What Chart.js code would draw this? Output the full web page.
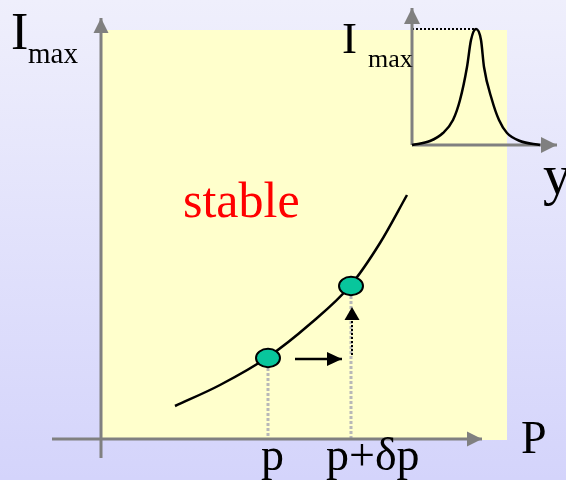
<!DOCTYPE html>
<html>
<head>
<meta charset="utf-8">
<script src="https://cdn.jsdelivr.net/npm/chart.js@4/dist/chart.umd.min.js"></script>
<style>
  html, body { margin: 0; padding: 0; background: #e6e6fb; }
  #wrap { width: 566px; height: 480px; position: relative; }
</style>
</head>
<body>
<div id="wrap"><canvas id="c" width="566" height="480"></canvas></div>
<script>
// ---- Data (diagram units: P along the main horizontal axis, I_max up) ----
// Stability curve I_max(P)
const curveP    = [0.74, 1.19, 1.67, 2.09, 2.49, 2.79, 3.06];
const curveI    = [0.33, 0.54, 0.82, 1.15, 1.53, 1.96, 2.44];
// Operating points p and p+δp
const pointP    = [1.67, 2.50];
const pointI    = [0.81, 1.53];
const pointTick = ['p', 'p+δp'];
// Inset profile I(y) (resonance peak)
const insetY    = [3.11, 3.29, 3.42, 3.52, 3.59, 3.66, 3.70, 3.75, 3.80, 3.83, 3.91, 3.98, 4.06, 4.19, 4.39];
const insetI    = [2.94, 2.98, 3.06, 3.19, 3.39, 3.72, 3.99, 4.10, 3.99, 3.72, 3.39, 3.19, 3.06, 2.98, 2.94];
// Axis extents
const mainXAxis  = [-0.49, 3.81];   // P axis (at I = 0)
const mainYAxis  = [-0.19, 4.21];   // I axis (at P = 0)
const insetOrigin = [3.11, 2.94];
const insetXEnd   = 4.56;
const insetYEnd   = 4.31;
const panel = { x0: 0.01, x1: 4.06, y0: -0.01, y1: 4.09 };
// Step arrows
const stepH = { y: 0.80, x0: 1.94, x1: 2.41 };
const stepV = { x: 2.51, y0: 0.84, y1: 1.32 };

const labels = [
  { t: 'I',      x: -0.90, y: 3.90, size: 52, color: '#000' },
  { t: 'max',    x: -0.73, y: 3.76, size: 29, color: '#000' },
  { t: 'stable', x: 0.82,  y: 2.22, size: 50, color: '#ff0000' },
  { t: 'I',      x: 2.41,  y: 3.86, size: 45, color: '#000' },
  { t: 'max',    x: 2.67,  y: 3.72, size: 26, color: '#000' },
  { t: 'y',      x: 4.42,  y: 2.45, size: 56, color: '#000' },
  { t: 'P',      x: 4.20,  y: -0.14, size: 46, color: '#000' },
  { t: pointTick[0], x: 1.60, y: -0.31, size: 46, color: '#000' },
  { t: pointTick[1], x: 2.25, y: -0.31, size: 46, color: '#000' }
];

const pts = (xs, ys) => xs.map((x, i) => ({ x: x, y: ys[i] }));

// ellipse marker
function ellipseMarker() {
  const c = document.createElement('canvas');
  c.width = 30; c.height = 24;
  const g = c.getContext('2d');
  g.beginPath();
  g.ellipse(15, 12, 12, 9.2, 0, 0, Math.PI * 2);
  g.fillStyle = '#08c69c';
  g.fill();
  g.lineWidth = 2;
  g.strokeStyle = '#000';
  g.stroke();
  return c;
}

const GRAY = '#808080';
const base = { showLine: true, pointRadius: 0, fill: false, clip: false, tension: 0 };

const datasets = [
  Object.assign({}, base, { label: 'points', showLine: false, data: pts(pointP, pointI),
    pointStyle: ellipseMarker(), pointRadius: 12, order: 0 }),
  Object.assign({}, base, { label: 'curve', data: pts(curveP, curveI), borderColor: '#000',
    borderWidth: 2.5, cubicInterpolationMode: 'monotone', order: 1 }),
  Object.assign({}, base, { label: 'inset', data: pts(insetY, insetI), borderColor: '#000',
    borderWidth: 2.5, cubicInterpolationMode: 'monotone', order: 1 }),
  Object.assign({}, base, { label: 'stepH', data: [{x: stepH.x0, y: stepH.y}, {x: stepH.x1, y: stepH.y}],
    borderColor: '#000', borderWidth: 2.5, order: 1, arrow: { len: 15, half: 7, color: '#000' } }),
  Object.assign({}, base, { label: 'stepV', data: [{x: stepV.x, y: stepV.y0}, {x: stepV.x, y: stepV.y1}],
    borderColor: '#000', borderWidth: 2, borderDash: [2, 2], order: 1, arrow: { len: 13, half: 7.5, color: '#000' } }),
  Object.assign({}, base, { label: 'drop1', data: [{x: pointP[0], y: pointI[0]}, {x: pointP[0], y: 0}],
    borderColor: '#b8b8b8', borderWidth: 3, borderDash: [3, 2], order: 3 }),
  Object.assign({}, base, { label: 'drop2', data: [{x: pointP[1], y: pointI[1]}, {x: pointP[1], y: 0}],
    borderColor: '#b8b8b8', borderWidth: 3, borderDash: [3, 2], order: 3 }),
  Object.assign({}, base, { label: 'peak', data: [{x: insetOrigin[0], y: 4.10}, {x: 3.75, y: 4.10}],
    borderColor: '#000', borderWidth: 2, borderDash: [2, 2], order: 3 }),
  Object.assign({}, base, { label: 'xAxis', data: [{x: mainXAxis[0], y: 0}, {x: mainXAxis[1], y: 0}],
    borderColor: GRAY, borderWidth: 3, order: 2, arrow: { len: 15, half: 7.5, color: GRAY } }),
  Object.assign({}, base, { label: 'yAxis', data: [{x: 0, y: mainYAxis[0]}, {x: 0, y: mainYAxis[1]}],
    borderColor: GRAY, borderWidth: 3, order: 2, arrow: { len: 15, half: 7.5, color: GRAY } }),
  Object.assign({}, base, { label: 'insetX', data: [{x: insetOrigin[0], y: insetOrigin[1]}, {x: insetXEnd, y: insetOrigin[1]}],
    borderColor: GRAY, borderWidth: 3, order: 2, arrow: { len: 16, half: 8, color: GRAY } }),
  Object.assign({}, base, { label: 'insetYax', data: [{x: insetOrigin[0], y: insetOrigin[1]}, {x: insetOrigin[0], y: insetYEnd}],
    borderColor: GRAY, borderWidth: 3, order: 2, arrow: { len: 16, half: 8, color: GRAY } })
];

const bgPlugin = {
  id: 'bg',
  beforeDraw(chart) {
    const ctx = chart.ctx, w = chart.width, h = chart.height;
    const g = ctx.createLinearGradient(0, 0, 0, h);
    g.addColorStop(0, '#efeffc');
    g.addColorStop(1, '#d4d4fb');
    ctx.save();
    ctx.fillStyle = g;
    ctx.fillRect(0, 0, w, h);
    const xs = chart.scales.x, ys = chart.scales.y;
    const px0 = xs.getPixelForValue(panel.x0), px1 = xs.getPixelForValue(panel.x1);
    const py0 = ys.getPixelForValue(panel.y1), py1 = ys.getPixelForValue(panel.y0);
    ctx.fillStyle = '#ffffcc';
    ctx.fillRect(px0, py0, px1 - px0, py1 - py0);
    ctx.restore();
  }
};

const arrowPlugin = {
  id: 'arrows',
  afterDatasetsDraw(chart) {
    const ctx = chart.ctx;
    chart.data.datasets.forEach((ds, i) => {
      if (!ds.arrow) return;
      const meta = chart.getDatasetMeta(i);
      const n = meta.data.length;
      const a = meta.data[n - 2], b = meta.data[n - 1];
      const ang = Math.atan2(b.y - a.y, b.x - a.x);
      const L = ds.arrow.len, H = ds.arrow.half;
      ctx.save();
      ctx.translate(b.x, b.y);
      ctx.rotate(ang);
      ctx.beginPath();
      ctx.moveTo(0, 0);
      ctx.lineTo(-L, -H);
      ctx.lineTo(-L, H);
      ctx.closePath();
      ctx.fillStyle = ds.arrow.color;
      ctx.fill();
      ctx.restore();
    });
    // labels
    const xs = chart.scales.x, ys = chart.scales.y;
    ctx.save();
    ctx.textAlign = 'left';
    ctx.textBaseline = 'alphabetic';
    labels.forEach(l => {
      ctx.font = l.size + 'px "Liberation Serif", "Times New Roman", serif';
      ctx.fillStyle = l.color;
      ctx.fillText(l.t, xs.getPixelForValue(l.x), ys.getPixelForValue(l.y));
    });
    ctx.restore();
  }
};

new Chart(document.getElementById('c'), {
  type: 'scatter',
  data: { datasets: datasets },
  options: {
    responsive: false,
    animation: false,
    events: [],
    layout: { padding: 0, autoPadding: false },
    plugins: { legend: { display: false }, tooltip: { enabled: false }, title: { display: false } },
    scales: {
      x: { type: 'linear', display: false, min: -1.01, max: 4.65 },
      y: { type: 'linear', display: false, min: -0.41, max: 4.39 }
    }
  },
  plugins: [bgPlugin, arrowPlugin]
});
</script>
</body>
</html>
